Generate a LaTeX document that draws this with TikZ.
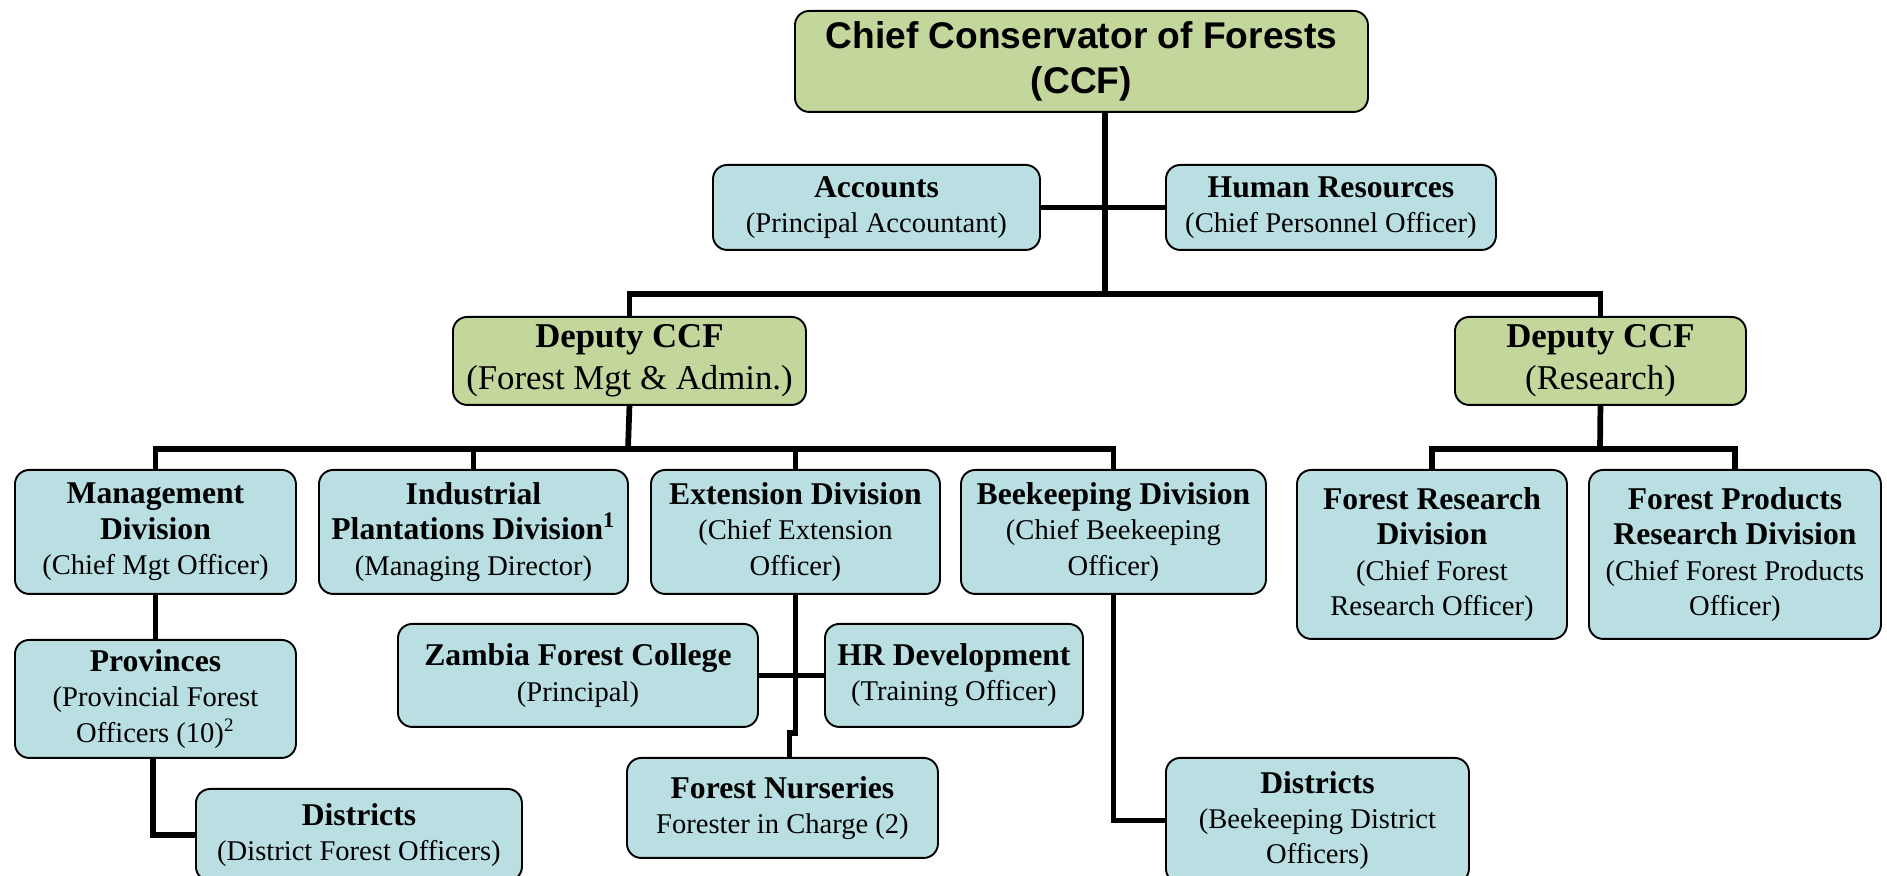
\documentclass[tikz,border=0pt]{standalone}
\usepackage{fontspec}
\setmainfont{Liberation Serif}
\newfontfamily\ccffont{Liberation Sans}
\definecolor{boxblue}{HTML}{B9DFE3}
\definecolor{boxgreen}{HTML}{C3D69B}
% heading line and subtitle sizes
\newcommand{\hd}[1]{{\fontsize{13.3}{15.5}\selectfont\bfseries #1}}
\newcommand{\dhd}[1]{{\fontsize{14.6}{17.5}\selectfont\bfseries #1}}
\begin{document}
\begin{tikzpicture}[x=0.42pt,y=-0.42pt,font=\fontsize{12}{14.8}\selectfont,
  unit/.style={draw=black, line width=0.8pt, fill=boxblue, rounded corners=6pt, align=center, inner sep=2pt, anchor=north west},
  deputy/.style={unit, fill=boxgreen, font=\fontsize{14.6}{17.5}\selectfont},
  sz/.style 2 args={minimum width=#1*0.42pt, minimum height=#2*0.42pt},
  conn/.style={line width=2.4pt}]
\clip (0,0) rectangle (1887,876);
% top of the tree
\node[unit, fill=boxgreen, sz={573}{101}, font=\ccffont\fontsize{15.6}{18.9}\selectfont\bfseries] (ccf) at (794,10) {Chief Conservator of Forests\\(CCF)};
\node[unit, sz={327}{85}] (acc) at (712,164) {\hd{Accounts}\\(Principal Accountant)};
\node[unit, sz={330}{85}] (hr) at (1165,164) {\hd{Human Resources}\\(Chief Personnel Officer)};
\node[deputy, sz={353}{88}] (depL) at (452,316) {\dhd{Deputy CCF}\\(Forest Mgt \& Admin.)};
\node[deputy, sz={291}{88}] (depR) at (1454,316) {\dhd{Deputy CCF}\\(Research)};
% divisions
\node[unit, sz={281}{124}] (mgmt) at (14,469) {\hd{Management}\\\hd{Division}\\(Chief Mgt Officer)};
\node[unit, sz={309}{124}] (ind) at (318,469) {\hd{Industrial}\\\hd{Plantations Division\textsuperscript{1}}\\(Managing Director)};
\node[unit, sz={289}{124}] (ext) at (650,469) {\hd{Extension Division}\\(Chief Extension\\Officer)};
\node[unit, sz={305}{124}] (bee) at (960,469) {\hd{Beekeeping Division}\\(Chief Beekeeping\\Officer)};
\node[unit, sz={270}{169}] (fres) at (1296,469) {\hd{Forest Research}\\\hd{Division}\\(Chief Forest\\Research Officer)};
\node[unit, sz={292}{169}] (fprod) at (1588,469) {\hd{Forest Products}\\\hd{Research Division}\\(Chief Forest Products\\Officer)};
% field level
\node[unit, sz={281}{118}] (prov) at (14,639) {\hd{Provinces}\\(Provincial Forest\\Officers (10)\textsuperscript{2}};
\node[unit, sz={326}{92}] (distL) at (195,788) {\hd{Districts}\\(District Forest Officers)};
\node[unit, sz={360}{103}] (zfc) at (397,623) {\hd{Zambia Forest College}\\(Principal)};
\node[unit, sz={258}{103}] (hrd) at (824,623) {\hd{HR Development}\\(Training Officer)};
\node[unit, sz={311}{100}] (nurs) at (626,757) {\hd{Forest Nurseries}\\Forester in Charge (2)};
\node[unit, sz={303}{125}] (distR) at (1165,757) {\hd{Districts}\\(Beekeeping District\\Officers)};
% connectors
\coordinate (top) at (1105,294);
\coordinate (lvl) at (628,449);
\coordinate (lvr) at (1600,449);
\draw[conn] (ccf.south -| top) -- (top);
\draw[conn] (acc.east) -- (hr.west);
\draw[conn] (depL.north) |- (top) -| (depR.north);
\draw[conn] (depL.south) -- (lvl);
\draw[conn] (mgmt.north) |- (bee.north |- lvl) -- (bee.north);
\foreach \n in {ind,ext}
  \draw[conn] (\n.north) -- (\n.north |- lvl);
\draw[conn] (depR.south) -- (lvr);
\draw[conn] (fres.north) |- (fprod.north |- lvr) -- (fprod.north);
\draw[conn] (mgmt.south) -- (prov.north);
\draw[conn] ([xshift=-1pt]prov.south) |- (distL.west);
\draw[conn] (ext.south) -- ++(0,138) -| ([xshift=3pt]nurs.north);
\draw[conn] (zfc.east) -- (hrd.west);
\draw[conn] (bee.south) |- (distR.west);
\end{tikzpicture}
\end{document}
